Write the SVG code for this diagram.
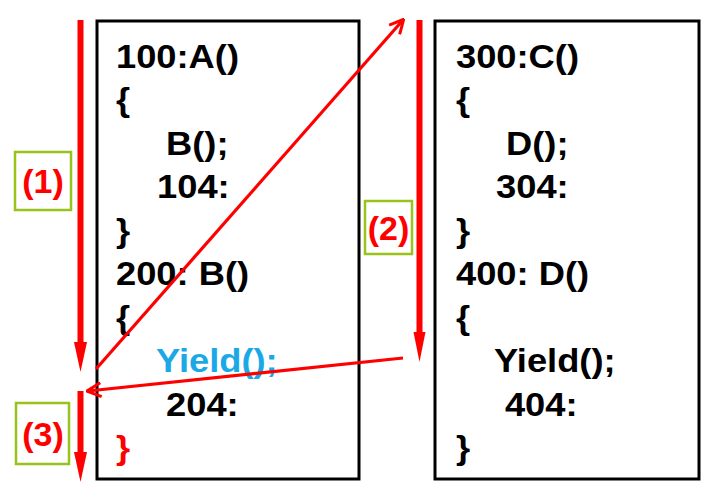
<svg xmlns="http://www.w3.org/2000/svg" width="717" height="504" viewBox="0 0 717 504">
<style>
.code{font-family:"Liberation Sans",Arial,sans-serif;font-weight:bold;font-size:33px;fill:#000}
.lbl{font-family:"Liberation Sans",Arial,sans-serif;font-weight:bold;font-size:34px;fill:#ff0000;text-anchor:middle}
.box{fill:#fff;stroke:#000;stroke-width:3}
.lbox{fill:none;stroke:#99c31a;stroke-width:2.5}
.red{fill:#ff0000}
.thin{fill:none;stroke:#ff0000;stroke-width:3.2;marker-end:url(#open)}
</style>
<defs>
<marker id="open" viewBox="0 0 16 16" refX="14" refY="8" markerWidth="16" markerHeight="16" markerUnits="userSpaceOnUse" orient="auto">
<path d="M1,1 L15,8 L1,15" fill="none" stroke="#ff0000" stroke-width="3"/>
</marker>
</defs>
<rect width="717" height="504" fill="#fff"/>
<g id="boxA">
<rect class="box" x="97" y="21" width="262" height="458"/>
<g transform="translate(116,0) scale(1.1,1)">
<text class="code" x="0" y="68">100:A()</text>
<text class="code" x="0" y="111.5">{</text>
<text class="code" x="45.5" y="155">B();</text>
<text class="code" x="37.3" y="198.5">104:</text>
<text class="code" x="0" y="242">}</text>
<text class="code" x="0" y="285.5">200: B()</text>
<text class="code" x="0" y="329">{</text>
<text class="code" x="36.4" y="372.5" style="fill:#1aa9e6">Yield();</text>
<text class="code" x="45.5" y="416">204:</text>
<text class="code" x="0" y="459.5" style="fill:#ff0000">}</text>
</g>
</g>
<g id="boxC">
<rect class="box" x="435" y="21" width="264" height="458"/>
<g transform="translate(456,0) scale(1.1,1)">
<text class="code" x="0" y="68">300:C()</text>
<text class="code" x="0" y="111.5">{</text>
<text class="code" x="45.5" y="155">D();</text>
<text class="code" x="36.4" y="198.5">304:</text>
<text class="code" x="0" y="242">}</text>
<text class="code" x="0" y="285.5">400: D()</text>
<text class="code" x="0" y="329">{</text>
<text class="code" x="34.5" y="372.5">Yield();</text>
<text class="code" x="44.5" y="416">404:</text>
<text class="code" x="0" y="459.5">}</text>
</g>
</g>
<g id="label1">
<rect class="lbox" x="15" y="152" width="56" height="58"/>
<text class="lbl" x="43" y="193">(1)</text>
</g>
<g id="label2">
<rect class="lbox" x="365" y="201" width="47" height="53"/>
<text class="lbl" x="388.5" y="240">(2)</text>
</g>
<g id="label3">
<rect class="lbox" x="16" y="403" width="53" height="61"/>
<text class="lbl" x="43" y="446">(3)</text>
</g>
<g id="connectors">
<rect class="red" x="77.5" y="20" width="6" height="323"/>
<polygon class="red" points="74,342 87,342 80.5,372"/>
<rect class="red" x="77.5" y="391" width="6" height="62"/>
<polygon class="red" points="74,452 87,452 80.5,482"/>
<rect class="red" x="416.5" y="20" width="6" height="313"/>
<polygon class="red" points="413.5,332 425.5,332 419.5,362"/>
<line class="thin" x1="96" y1="369" x2="403" y2="20"/>
<line class="thin" x1="403" y1="358" x2="88" y2="391"/>
</g>
</svg>
